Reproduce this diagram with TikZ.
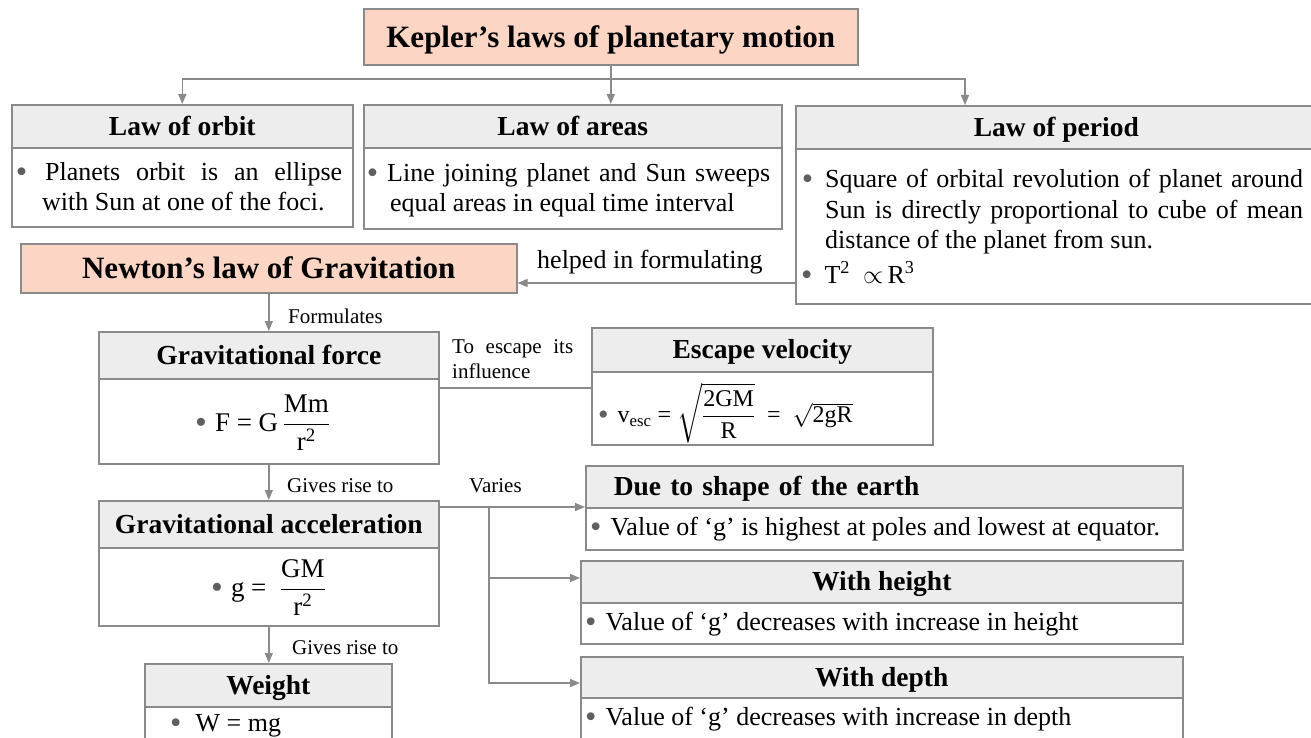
\documentclass[tikz,border=0pt]{standalone}
\usepackage{fix-cm}
\usepackage{amsmath}
\usepackage{graphicx}
\usepackage{fontspec}
\setmainfont{Liberation Serif}
\usetikzlibrary{arrows.meta,calc}
\definecolor{salmon}{HTML}{FCD5C4}
\definecolor{hdrgray}{HTML}{EDEDED}
\definecolor{linegray}{HTML}{8A8A8A}
\definecolor{bulgray}{HTML}{5F5F5F}
\newcommand\bigfont{\fontsize{31}{36}\selectfont\bfseries}
\newcommand\hdfont{\fontsize{27.5}{32}\selectfont\bfseries}
\newcommand\bdfont{\fontsize{26}{30.5}\selectfont}
\newcommand\fmfont{\fontsize{27}{32}\selectfont}
\newcommand\esfont{\fontsize{24}{29}\selectfont}
\newcommand\smfont{\fontsize{21}{25}\selectfont}
\newcommand\bul{\textcolor{bulgray}{\raisebox{-2pt}{\scalebox{1.25}{•}}}}
\newcommand\tfr[2]{\genfrac{}{}{1.2pt}{0}{\text{#1}}{\text{#2}}}
\begin{document}
\begin{tikzpicture}[x=1pt,y=-1pt,
  box/.style={draw=linegray, line width=1.6pt, inner sep=0pt, anchor=north west},
  title/.style={box, fill=salmon, font=\bigfont, text height=20.5pt, text depth=0pt},
  hdr/.style={box, fill=hdrgray, font=\hdfont, text height=18.2pt, text depth=0pt},
  bdy/.style={box, fill=white},
  txt/.style={inner sep=0pt, font=\bdfont, align=left},
  fml/.style={inner sep=0pt, font=\fmfont, anchor=west},
  lbl/.style={inner sep=0pt, font=\smfont, anchor=base west},
  conn/.style={draw=linegray, line width=1.5pt},
  arr/.style={conn, -{Triangle[length=10pt,width=8pt]}}]
\path[use as bounding box, fill=white] (0,0) rectangle (1311,738);

% boxes
\node[title, minimum width=494pt, minimum height=56pt] (kepler) at (363,8) {Kepler’s laws of planetary motion};
\node[hdr, minimum width=341pt, minimum height=43pt] (orbitH) at (11,104) {Law of orbit};
\node[bdy, minimum width=341pt, minimum height=79pt] (orbitB) at (11,147) {};
\node[hdr, minimum width=418pt, minimum height=43pt] (areasH) at (363,104) {Law of areas};
\node[bdy, minimum width=418pt, minimum height=81pt] (areasB) at (363,147) {};
\node[hdr, minimum width=521pt, minimum height=43pt] (periodH) at (795,105) {Law of period};
\node[bdy, minimum width=521pt, minimum height=155pt] (periodB) at (795,148) {};
\node[title, minimum width=496pt, minimum height=49pt] (newton) at (20,243) {Newton’s law of Gravitation};
\node[hdr, minimum width=340pt, minimum height=47pt] (gforceH) at (98,331) {Gravitational force};
\node[bdy, minimum width=340pt, minimum height=85pt] (gforceB) at (98,378) {};
\node[hdr, minimum width=341pt, minimum height=44pt] (escH) at (591,327) {Escape velocity};
\node[bdy, minimum width=341pt, minimum height=73pt] (escB) at (591,371) {};
\node[hdr, minimum width=340pt, minimum height=47pt] (gaccH) at (98,500) {Gravitational acceleration};
\node[bdy, minimum width=340pt, minimum height=78pt] (gaccB) at (98,547) {};
\node[hdr, minimum width=247pt, minimum height=43pt] (weightH) at (144,663) {Weight};
\node[bdy, minimum width=247pt, minimum height=60pt] (weightB) at (144,706) {};
\node[hdr, minimum width=597pt, minimum height=42pt, text width=597pt, align=left] (dueH) at (585,465) {\hspace*{28pt}Due to shape of the earth};
\node[bdy, minimum width=597pt, minimum height=42pt] (dueB) at (585,507) {};
\node[hdr, minimum width=602pt, minimum height=42pt] (heightH) at (580,560) {With height};
\node[bdy, minimum width=602pt, minimum height=41pt] (heightB) at (580,602) {};
\node[hdr, minimum width=602pt, minimum height=41pt] (depthH) at (580,656) {With depth};
\node[bdy, minimum width=602pt, minimum height=60pt] (depthB) at (580,697) {};

% body texts
\node[txt, anchor=north west] (orbitT) at (45,162) {\llap{\bul\hspace{18pt}}\makebox[297pt][s]{Planets orbit is an ellipse}\\\hspace*{-3pt}with Sun at one of the foci.};
\node[txt, anchor=north west] (areasT) at (387,163) {\llap{\bul\hspace{9pt}}\makebox[383pt][s]{Line joining planet and Sun sweeps}\\\hspace*{3pt}equal areas in equal time interval};
\node[txt, anchor=north west] (periodT) at (825,169) {\llap{\bul\hspace{12pt}}\makebox[478pt][s]{Square of orbital revolution of planet around}\\\makebox[478pt][s]{Sun is directly proportional to cube of mean}\\distance of the planet from sun.};
\node[txt, anchor=base west] (periodF) at (801,283) {\bul\hspace{12pt}T\textsuperscript{2}\ \ $\propto$\,R\textsuperscript{3}};
\node[fml] (gforceF) at (195,423) {\bul\hspace{8pt}F = G\,$\tfr{Mm}{r\textsuperscript{2}}$};
\node[fml, font=\esfont] (escF) at (598,413) {\bul\hspace{9pt}v\textsubscript{esc} = $\sqrt{\tfr{2GM}{R}}$\ \ =\ \ $\sqrt{\text{2gR}}$};
\node[fml] (gaccF) at (211,588) {\bul\hspace{8pt}g =\ \ $\tfr{GM}{r\textsuperscript{2}}$};
\node[txt, anchor=base west] (weightT) at (170,731) {\bul\hspace{14pt}W = mg};
\node[txt, anchor=base west] (dueT) at (590,535) {\bul\hspace{9pt}Value of ‘g’ is highest at poles and lowest at equator.};
\node[txt, anchor=base west] (heightT) at (585,630) {\bul\hspace{9pt}Value of ‘g’ decreases with increase in height};
\node[txt, anchor=base west] (depthT) at (585,725) {\bul\hspace{9pt}Value of ‘g’ decreases with increase in depth};

% connectors from Kepler
\coordinate (ky) at (0,79);
\coordinate (kj) at (kepler.south |- ky);
\coordinate (kr) at (965,79);
\draw[conn] (kepler.south) -- (kj);
\draw[arr] (kj) -| (orbitH.north);
\draw[arr] (kj) -- (kj |- areasH.north);
\draw[arr] (kj) -| (kr |- periodH.north);

% helped in formulating
\coordinate (hy) at (0,283);
\draw[arr] (periodB.west |- hy) -- (newton.east |- hy);
\node[txt, anchor=base west] (helped) at (537,268) {helped in formulating};

% Newton -> gravitational force
\draw[arr] (newton.south) -- (newton.south |- gforceH.north);
\node[lbl] (formulates) at (288,323) {Formulates};

% gravitational force -> escape velocity
\coordinate (ey) at (0,388);
\draw[conn] (gforceB.east |- ey) -- (escB.west |- ey);
\node[lbl] (escA) at (452,353) {\makebox[121pt][s]{To escape its}};
\node[lbl] (escB2) at (452,378) {influence};

% force -> acceleration -> weight
\draw[arr] (gforceB.south) -- (gforceB.south |- gaccH.north);
\node[lbl] (gives1) at (287,492) {Gives rise to};
\draw[arr] (gaccB.south) -- (gaccB.south |- weightH.north);
\node[lbl] (gives2) at (292,654) {Gives rise to};

% varies
\coordinate (vy) at (0,507);
\coordinate (vx) at (489,507);
\coordinate (vh) at (489,578);
\coordinate (vd) at (489,683);
\draw[arr] (gaccH.east |- vy) -- (dueB.west |- vy);
\draw[arr] (vx) |- (depthH.west |- vd);
\draw[arr] (vh) -- (heightH.west |- vh);
\node[lbl] (varies) at (469,492) {Varies};
\end{tikzpicture}
\end{document}
